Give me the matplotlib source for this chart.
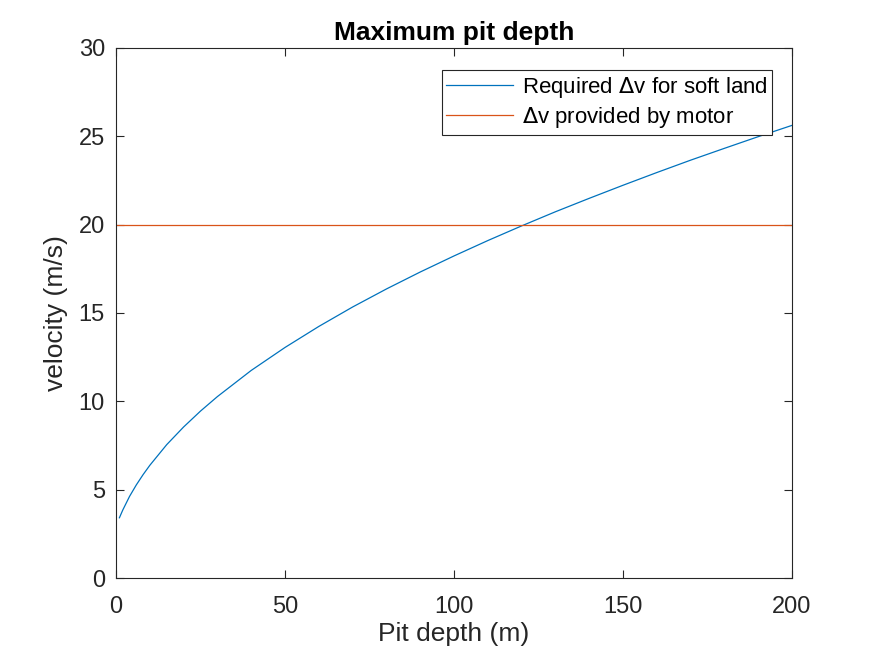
import matplotlib.pyplot as plt

plt.rcParams['font.family'] = ['Liberation Sans', 'DejaVu Sans']

# pit depth (m) and required delta-v (m/s)
depth = [1, 2, 4, 6, 8, 10, 15, 20, 25, 30, 40, 50, 60, 70, 80, 90, 100,
         110, 120, 130, 140, 150, 160, 170, 180, 190, 200]
dv_required = [3.41, 3.85, 4.62, 5.27, 5.85, 6.38, 7.55, 8.55, 9.45, 10.27,
               11.75, 13.05, 14.24, 15.34, 16.36, 17.32, 18.23, 19.10, 19.93,
               20.73, 21.49, 22.23, 22.95, 23.65, 24.32, 24.98, 25.62]
motor_x = [0, 200]
motor_dv = [20, 20]

fig = plt.figure(figsize=(8.75, 6.57), dpi=100)
ax = fig.add_axes([0.1326, 0.1202, 0.7726, 0.8068])

ax.plot(depth, dv_required, color='#0072BD', lw=0.9, label='Required $\\Delta$v for soft land')
ax.plot(motor_x, motor_dv, color='#D95319', lw=0.9, label='$\\Delta$v provided by motor')

ax.set_xlim(0, 200)
ax.set_ylim(0, 30)
ax.set_xticks([0, 50, 100, 150, 200])
ax.set_yticks([0, 5, 10, 15, 20, 25, 30])

grey = '#262626'
for s in ax.spines.values():
    s.set_color(grey)
    s.set_linewidth(0.8)
ax.tick_params(direction='in', top=True, right=True, colors=grey,
               labelsize=17, length=6, width=0.8)
ax.tick_params(axis='x', pad=13)
ax.tick_params(axis='y', pad=8)

ax.set_xlabel('Pit depth (m)', fontsize=19, color=grey, labelpad=3)
ax.set_ylabel('velocity (m/s)', fontsize=19, color=grey, labelpad=8)
ax.set_title('Maximum pit depth', fontsize=19, fontweight='bold', pad=6)

leg = ax.legend(loc='upper right', bbox_to_anchor=(0.97, 0.958), fontsize=16,
                fancybox=False, edgecolor=grey, handlelength=3.0,
                handletextpad=0.4, borderpad=0.2, labelspacing=0.25,
                borderaxespad=0, framealpha=1)
leg.get_frame().set_linewidth(0.8)

fig.savefig('out.png')
